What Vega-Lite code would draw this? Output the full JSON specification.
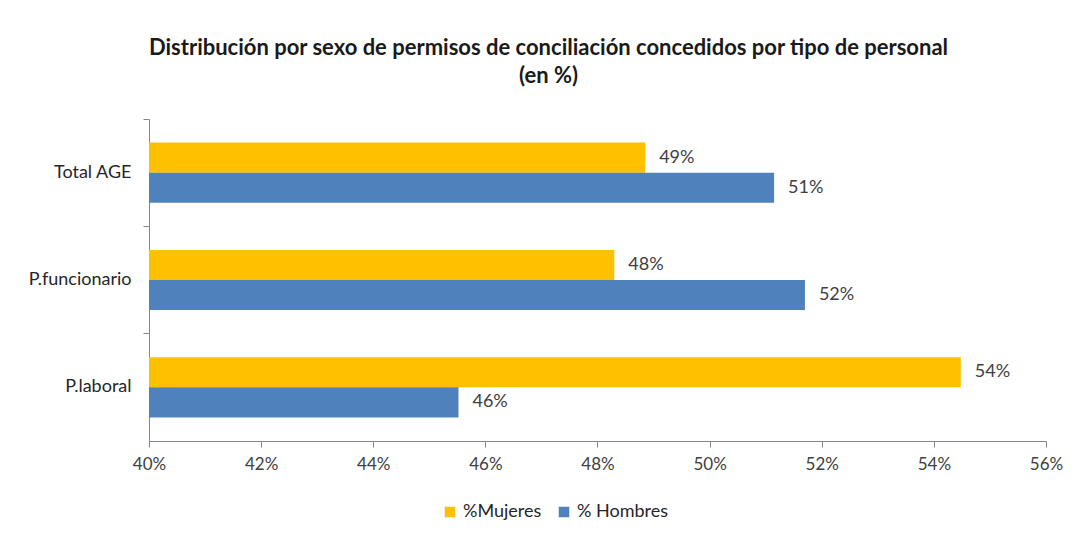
{
  "$schema": "https://vega.github.io/schema/vega-lite/v6.json",
  "width": 897,
  "height": 322,
  "autosize": {"type": "none"},
  "padding": {"left": 149, "top": 119, "right": 30, "bottom": 98},
  "background": "white",
  "config": {"view": {"stroke": null}, "font": "Lato"},
  "title": {
    "text": ["Distribución por sexo de permisos de conciliación concedidos por tipo de personal", "(en %)"],
    "fontSize": 22,
    "fontWeight": "bold",
    "color": "#1a1a1a",
    "anchor": "middle",
    "dx": -49,
    "offset": 31,
    "lineHeight": 28
  },
  "data": {
    "values": [
      {"tipo": "Total AGE", "sexo": "%Mujeres", "valor": 0.4885},
      {"tipo": "Total AGE", "sexo": "% Hombres", "valor": 0.5115},
      {"tipo": "P.funcionario", "sexo": "%Mujeres", "valor": 0.483},
      {"tipo": "P.funcionario", "sexo": "% Hombres", "valor": 0.517},
      {"tipo": "P.laboral", "sexo": "%Mujeres", "valor": 0.5448},
      {"tipo": "P.laboral", "sexo": "% Hombres", "valor": 0.4552}
    ]
  },
  "encoding": {
    "y": {
      "field": "tipo",
      "type": "nominal",
      "sort": ["Total AGE", "P.funcionario", "P.laboral"],
      "scale": {"paddingInner": 0, "paddingOuter": 0},
      "axis": {
        "title": null,
        "bandPosition": 0,
        "domainColor": "#868686",
        "tickColor": "#868686",
        "tickSize": 6,
        "labelFontSize": 18,
        "labelColor": "#262626",
        "labelPadding": 12,
        "labelBound": false
      }
    },
    "yOffset": {
      "field": "sexo",
      "type": "nominal",
      "sort": ["%Mujeres", "% Hombres"],
      "scale": {"paddingInner": 0, "paddingOuter": 0.783}
    },
    "x": {
      "field": "valor",
      "type": "quantitative",
      "scale": {"domain": [0.4, 0.56], "zero": false, "nice": false},
      "axis": {
        "title": null,
        "format": ".0%",
        "values": [0.4, 0.42, 0.44, 0.46, 0.48, 0.5, 0.52, 0.54, 0.56],
        "grid": false,
        "domainColor": "#868686",
        "tickColor": "#868686",
        "tickSize": 6,
        "labelFontSize": 17,
        "labelColor": "#404040",
        "labelPadding": 9,
        "labelFlush": false
      }
    },
    "color": {
      "field": "sexo",
      "type": "nominal",
      "sort": ["%Mujeres", "% Hombres"],
      "scale": {"domain": ["%Mujeres", "% Hombres"], "range": ["#FFC000", "#4F81BD"]},
      "legend": {
        "title": null,
        "orient": "none",
        "direction": "horizontal",
        "legendX": 292,
        "legendY": 384,
        "symbolType": "square",
        "symbolSize": 110,
        "symbolStrokeWidth": 0,
        "labelFontSize": 18,
        "labelColor": "#262626",
        "columnPadding": 13
      }
    }
  },
  "layer": [
    {"mark": {"type": "bar", "clip": true}},
    {
      "mark": {"type": "text", "align": "left", "dx": 14, "fontSize": 18, "color": "#404040", "baseline": "middle"},
      "encoding": {
        "text": {"field": "valor", "type": "quantitative", "format": ".0%"},
        "color": {"value": "#404040"}
      }
    }
  ]
}
